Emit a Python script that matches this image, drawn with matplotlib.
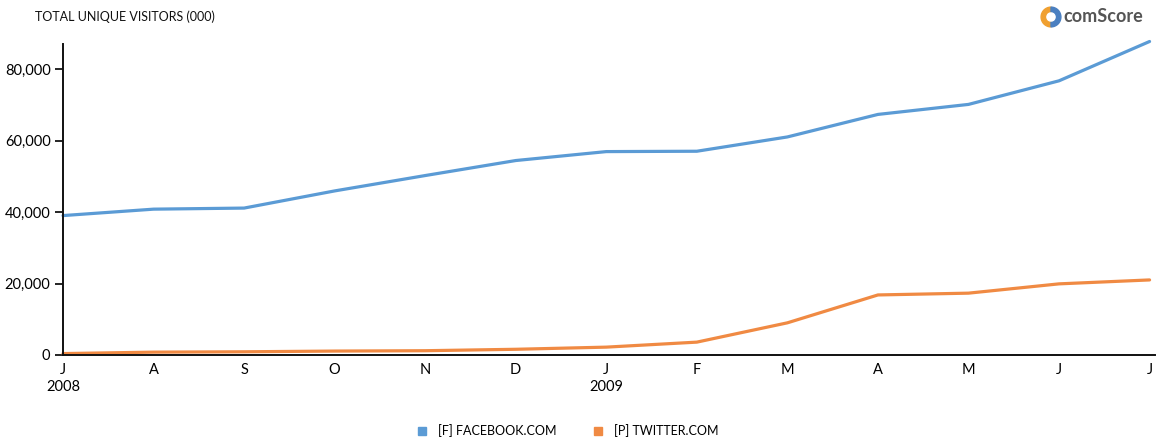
import matplotlib
matplotlib.use("Agg")
import matplotlib.pyplot as plt
from matplotlib.lines import Line2D
from matplotlib.patches import Wedge

plt.rcParams['font.family'] = ['Lato', 'DejaVu Sans']

# monthly unique visitors (000), Jun 2008 - Jun 2009
months = ['J\n2008', 'A', 'S', 'O', 'N', 'D', 'J\n2009', 'F', 'M', 'A', 'M', 'J', 'J']
facebook = [39000, 40800, 41100, 45900, 50200, 54400, 56900, 57000, 61000, 67300, 70100, 76700, 87700]
twitter = [400, 800, 900, 1100, 1200, 1600, 2200, 3600, 9000, 16800, 17300, 19900, 21000]
yticks = [0, 20000, 40000, 60000, 80000]

fb_color = '#5b9bd5'
tw_color = '#f08a43'

fig = plt.figure(figsize=(11.57, 4.42), dpi=100)
ax = fig.add_axes([63 / 1157, 87 / 442, 1092 / 1157, 311 / 442])

x = list(range(len(months)))
ax.plot(x, facebook, color=fb_color, lw=2.3, solid_capstyle='round', clip_on=False)
ax.plot(x, twitter, color=tw_color, lw=2.3, solid_capstyle='round', clip_on=False)

ax.set_xlim(0, 12.06)
ax.set_ylim(0, 87000)
ax.set_yticks(yticks)
ax.set_yticklabels([f'{v:,}' for v in yticks], fontsize=10.5)
ax.set_xticks(x)
ax.set_xticklabels(months, fontsize=10.5, linespacing=1.25)
ax.tick_params(axis='x', length=0, pad=6)
ax.tick_params(axis='y', length=6, width=1.2, direction='out', pad=3)

for side in ['top', 'right']:
    ax.spines[side].set_visible(False)
ax.spines['left'].set_linewidth(1.4)
ax.spines['bottom'].set_linewidth(1.4)
ax.spines['left'].set_color('#111111')
ax.spines['bottom'].set_color('#111111')

fig.text(35 / 1157, 1 - 17 / 442, 'TOTAL UNIQUE VISITORS (000)', fontsize=9,
         va='center', ha='left', color='#111111')

# comScore logo
fig.text(1063 / 1157, 1 - 17 / 442, 'comScore', fontsize=13, va='center',
         ha='left', color='#555555', fontweight='bold')
lax = fig.add_axes([1040 / 1157, 1 - 28 / 442, 22 / 1157, 22 / 442])
lax.set_xlim(-1, 1)
lax.set_ylim(-1, 1)
lax.set_aspect('equal')
lax.axis('off')
lax.add_patch(Wedge((0, 0), 0.9, 90, 270, width=0.4, color='#f0a030'))
lax.add_patch(Wedge((0, 0), 0.9, -90, 90, width=0.4, color='#4a7fc0'))

handles = [
    Line2D([], [], marker='s', color='none', markerfacecolor=fb_color,
           markeredgecolor=fb_color, markersize=6, label='[F] FACEBOOK.COM'),
    Line2D([], [], marker='s', color='none', markerfacecolor=tw_color,
           markeredgecolor=tw_color, markersize=6, label='[P] TWITTER.COM'),
]
fig.legend(handles=handles, loc='center', bbox_to_anchor=(0.49, 1 - 431 / 442),
           ncol=2, frameon=False, fontsize=9, handlelength=1, handletextpad=0.8,
           columnspacing=2.8)

fig.savefig('out.png', dpi=100)
